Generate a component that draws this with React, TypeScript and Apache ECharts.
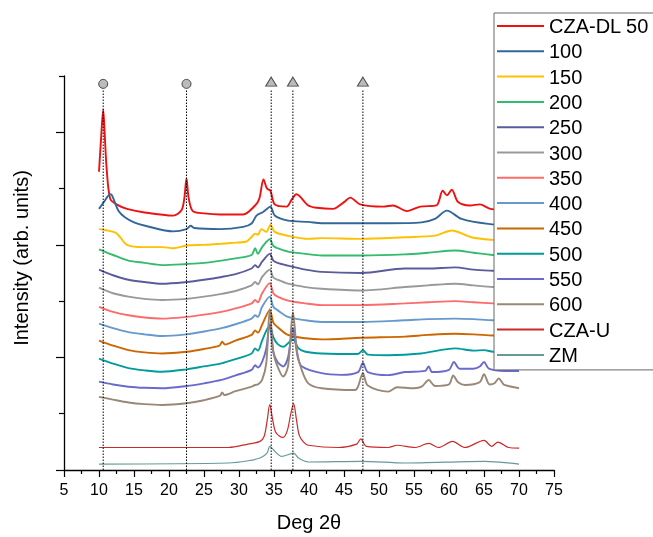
import React, { useEffect, useRef } from "react";
import * as echarts from "echarts";

const names = ["CZA-DL 50", "100", "150", "200", "250", "300", "350", "400", "450", "500", "550", "600", "CZA-U", "ZM"];
const colors = ["#ee1111", "#336699", "#ffc000", "#33bb6e", "#5b5b9b", "#999999", "#ff6b6b", "#6699cc", "#cc6600", "#009b9b", "#6a6acc", "#998877", "#cc2a2a", "#669999"];
const xTicks = [5, 10, 15, 20, 25, 30, 35, 40, 45, 50, 55, 60, 65, 70, 75];

const cza50 = [[10, 265], [10.3, 295], [10.6, 320], [10.8, 300], [11.1, 267], [11.6, 241], [12.5, 236], [14, 232], [16.3, 229], [20.6, 226], [21.8, 231], [22.2, 242], [22.5, 259], [22.8, 242], [23.4, 230], [25, 228], [27.3, 227], [30.6, 227], [32.3, 235], [32.9, 241], [33.5, 258], [34.0, 250], [34.5, 248], [35.1, 236], [36.8, 234], [37.5, 240], [38.2, 245], [39.9, 235], [41.1, 233], [43.4, 232], [45, 238], [45.9, 242], [47.3, 236], [50.6, 234], [52, 235], [54, 230], [55.9, 234], [58.2, 235], [59.1, 248], [59.7, 244], [60.4, 249], [61.3, 238], [63, 235], [64.4, 236], [65.9, 232], [70, 230]];
const s100 = [[10, 232], [10.7, 238], [11.3, 243.6], [11.7, 245], [12.0, 242], [12.8, 230], [13.7, 224.5], [15, 220], [16.6, 217], [20.6, 212], [22.5, 214], [23.1, 217], [23.6, 215], [27.3, 214], [30.6, 216], [31.8, 219], [32.5, 226], [33.4, 229], [34.5, 234], [35.1, 226], [37, 221.5], [39.9, 220.4], [41.8, 219.2], [51.3, 219.2], [56.1, 220], [58, 223], [59.7, 230.4], [61.8, 223], [65.6, 218.6], [70, 217]];
const s150 = [[10, 214], [11, 213], [12.3, 211], [13, 207], [14, 200], [16.3, 198], [19, 198], [20.6, 197], [22.5, 199.4], [25, 200], [27.5, 201], [29.5, 202], [31.1, 203], [31.8, 207], [32.3, 210], [32.7, 209], [33.2, 214], [33.9, 211.5], [34.5, 218], [35.1, 211.5], [37, 208], [39.9, 205.3], [41.8, 206], [47.5, 205.3], [53.7, 206.8], [58, 208.2], [60.4, 212.7], [63.2, 206.8], [66.3, 204.4], [70, 203]];
const s200 = [[10, 196], [12, 191], [14.2, 186], [16.5, 184], [19, 182], [22.5, 183], [25, 184], [27.5, 186], [29.5, 188], [31.8, 191], [32.3, 197], [32.7, 192], [33.3, 198], [34.4, 205], [34.9, 199], [35.5, 197], [37, 194], [39.5, 192], [41.8, 190.5], [47.5, 190.5], [53.7, 191.5], [57, 193], [60.9, 195], [63.5, 193], [66.3, 191], [70, 190]];
const s250 = [[10, 178], [12, 173], [14.2, 169], [16.5, 167], [19, 165.5], [22.5, 167], [25, 169], [27.5, 171.5], [29.5, 174], [31.8, 179], [32.3, 182], [32.7, 180], [33.3, 185], [34.4, 192], [34.9, 186], [35.5, 184], [37, 181.5], [39.5, 178], [41.8, 176], [47.5, 175], [53.7, 179], [57, 179], [60.9, 180], [63.5, 178], [66.3, 177], [70, 176]];
const s300 = [[10, 162], [12, 157], [14.2, 154], [16.5, 152], [19, 151], [22.5, 152], [25, 154], [27.5, 156.5], [29.5, 159], [31.8, 164], [32.3, 167], [32.7, 165], [33.3, 171.5], [34.4, 178], [34.9, 171], [35.5, 169], [37, 165.5], [39.5, 162.5], [41.8, 161], [47.5, 159.5], [53.7, 162.5], [57, 164], [60.9, 165.5], [63.5, 164], [66.3, 162.5], [70, 162]];
const s350 = [[10, 145], [12, 140.5], [14.2, 137.5], [16.5, 135.5], [19, 134.5], [22.5, 136], [25, 138], [27.5, 140.5], [29.5, 143.5], [31.8, 148], [32.3, 151], [32.7, 149], [33.3, 157], [34.4, 166], [34.9, 157], [35.5, 154], [37, 150.5], [39.5, 148], [41.8, 146.5], [47.5, 146.5], [53.7, 148], [57, 149], [60.9, 150], [63.5, 149], [66.3, 148], [70, 147]];
const s400 = [[10, 130], [12, 126], [14.2, 122.5], [16.5, 120.5], [19, 119], [22.5, 120.5], [25, 123], [27.5, 126], [29.5, 129.5], [31.8, 134.5], [32.3, 137.5], [32.7, 136], [33.3, 145], [34.4, 154], [34.9, 145], [35.5, 142], [37, 136], [39.5, 133], [41.8, 131.5], [47.5, 131.5], [53.7, 133], [57, 134], [60.9, 134.5], [63.5, 134], [66.3, 133], [70, 133]];
const s450 = [[10, 115], [12, 110.5], [14.2, 106.5], [16.5, 104.5], [19, 103.5], [22.5, 105], [25, 107.5], [27.2, 110.5], [27.6, 114], [28, 111.5], [29.5, 115], [31.8, 120], [32.3, 124], [32.7, 122], [33.3, 129], [34.4, 142], [34.9, 131], [35.5, 127], [37, 120], [39.5, 117], [41.8, 116], [47.5, 117.5], [53.7, 118.5], [57, 120], [60.9, 121], [63.5, 120.5], [66.3, 119.5], [70, 119]];
const s500 = [[10, 99], [12, 94.5], [14.2, 90.5], [16.5, 88.5], [19, 87.3], [22.5, 89.4], [25, 92], [27.5, 94.7], [29.5, 98.5], [31.8, 103.5], [32.3, 108], [32.7, 106], [33.3, 115], [34.4, 128.5], [34.9, 118], [35.5, 112], [36.3, 109.5], [37.7, 116], [38.5, 108], [39.5, 105], [41.8, 103.5], [47.0, 103], [47.7, 106.5], [48.4, 102.5], [51.3, 102], [56, 103.5], [60.9, 108], [63.5, 106], [65, 106.5], [66.3, 105], [70, 104]];
const s550 = [[10, 78.5], [12, 76], [14.2, 74], [16.5, 73], [19, 72.6], [22.5, 74.6], [25, 77], [27.5, 80], [29.5, 84], [31.8, 89], [32.3, 93], [32.7, 91], [33.3, 96], [33.9, 108], [34.4, 130], [34.9, 105], [35.5, 96], [36.3, 92], [37.0, 100], [37.7, 126], [38.4, 100], [39.0, 92], [41.8, 86], [44.6, 84.5], [47.0, 87], [47.7, 95], [48.4, 87], [51.3, 84.3], [53.7, 87], [56.6, 88], [57.1, 92], [57.6, 87], [60.0, 89], [60.7, 96], [61.5, 90], [63.5, 90], [64.4, 92], [65.0, 96], [65.7, 90], [68, 88], [70, 88]];
const s600 = [[10, 65], [12, 62.5], [14.2, 60], [16.5, 58.5], [19, 57.8], [22.5, 59.3], [25, 62], [27.3, 66], [27.6, 69], [27.9, 66.6], [29.5, 70], [31.8, 74], [32.3, 75.5], [32.7, 76], [33.3, 80], [33.9, 95], [34.4, 143], [34.9, 105], [35.5, 92], [36.3, 83], [37.0, 92], [37.7, 140], [38.3, 105], [38.9, 90], [39.9, 77], [41.8, 72.6], [46.6, 71], [47.0, 74], [47.7, 86], [48.4, 75], [51.3, 69.6], [52.6, 73.5], [55, 72.6], [56.1, 74], [57.1, 80], [58, 74.6], [60.0, 76], [60.6, 84], [61.3, 78], [62.3, 75.5], [64.4, 78], [65.0, 85], [65.8, 76], [66.5, 77], [67.1, 81.4], [67.8, 76], [68.5, 74.6], [70, 72.6]];
const czaU = [[10, 20], [28.5, 20], [31.3, 23], [33, 25.4], [33.6, 30], [34.0, 43], [34.4, 58], [34.8, 45], [35.2, 34], [35.8, 30], [36.3, 29], [36.9, 35], [37.4, 50], [37.8, 59], [38.2, 45], [38.6, 31], [39.2, 25], [39.9, 22], [44.2, 20], [46.8, 23], [47.4, 27.7], [48.2, 21], [51.3, 20], [52.6, 22], [55.1, 20], [57.1, 23.6], [58.5, 20], [60.5, 25.4], [62.3, 20], [65, 26.3], [66.1, 21], [67, 24.8], [68.5, 20], [70, 19.5]];
const zm = [[10, 5.3], [28.5, 6.2], [31.3, 8.2], [33, 10.6], [34.0, 15], [34.4, 21], [35.1, 16.8], [36.1, 12.1], [37.8, 15], [38.5, 10.6], [39.9, 7.1], [47.5, 7.7], [53.7, 6.2], [65.1, 7.7], [70, 5.3]];

const traces = [cza50, s100, s150, s200, s250, s300, s350, s400, s450, s500, s550, s600, czaU, zm];

const circlePeaks = [10.6, 22.5];
const trianglePeaks = [34.6, 37.7, 47.7];
const markerLevel = 343;
const guideTop = 338;

export default function App() {
  const ref = useRef<HTMLDivElement>(null);
  useEffect(() => {
    if (!ref.current) return;
    const chart = echarts.init(ref.current, undefined, { renderer: "svg" });
    const font = "Liberation Sans, Arial, sans-serif";
    const series: any[] = traces.map((d, i) => ({
      name: names[i],
      type: "line",
      data: d,
      showSymbol: false,
      symbol: "none",
      smooth: 0.3,
      lineStyle: { color: colors[i], width: i >= 12 ? 1.2 : 1.9 },
      itemStyle: { color: colors[i] },
      z: 2,
    }));
    [...circlePeaks, ...trianglePeaks].forEach((x) => {
      series.push({
        type: "line",
        data: [[x, 0], [x, guideTop]],
        showSymbol: false,
        symbol: "none",
        lineStyle: { color: "#000", width: 1, type: [1.5, 1.5] },
        z: 3,
        silent: true,
      });
    });
    series.push({
      type: "scatter",
      data: circlePeaks.map((x) => [x, markerLevel]),
      symbol: "circle",
      symbolSize: 9,
      itemStyle: { color: "#aaaaaa", borderColor: "#222", borderWidth: 1 },
      z: 4,
      silent: true,
    });
    series.push({
      type: "scatter",
      data: trianglePeaks.map((x) => [x, markerLevel + 2]),
      symbol: "triangle",
      symbolSize: [11, 9],
      itemStyle: { color: "#aaaaaa", borderColor: "#222", borderWidth: 1 },
      z: 4,
      silent: true,
    });
    chart.setOption({
      animation: false,
      grid: { left: 64, right: 99, top: 76, bottom: 65 },
      xAxis: {
        type: "value",
        min: 5,
        max: 75,
        interval: 5,
        name: "Deg 2θ",
        nameLocation: "middle",
        nameGap: 42,
        nameTextStyle: { fontSize: 20, color: "#000", fontFamily: font },
        axisLine: { show: true, lineStyle: { color: "#000", width: 1.3 } },
        axisTick: { show: true, length: 7, lineStyle: { color: "#000", width: 1.2 } },
        minorTick: { show: true, splitNumber: 2, length: 4, lineStyle: { color: "#000", width: 1.2 } },
        axisLabel: {
          margin: 11,
          fontSize: 16,
          color: "#000",
          fontFamily: font,
          customValues: xTicks,
        },
        splitLine: { show: false },
      },
      yAxis: [
        {
          type: "value",
          min: 0,
          max: 350,
          position: "left",
          axisLine: { show: true, lineStyle: { color: "#000", width: 1.3 } },
          axisTick: { show: true, length: 8, customValues: [0, 100, 200, 300], lineStyle: { color: "#000", width: 1.2 } },
          axisLabel: { show: false },
          splitLine: { show: false },
        },
        {
          type: "value",
          min: 0,
          max: 350,
          position: "left",
          axisLine: { show: false },
          axisTick: { show: true, length: 5, customValues: [50, 150, 250, 350], lineStyle: { color: "#000", width: 1.2 } },
          axisLabel: { show: false },
          splitLine: { show: false },
        },
      ],
      legend: {
        data: names,
        orient: "vertical",
        left: 494,
        top: 13,
        padding: [2, 40, 4, 3],
        itemWidth: 47,
        itemHeight: 2,
        itemGap: 3.3,
        icon: "rect",
        backgroundColor: "#fff",
        borderColor: "#666",
        borderWidth: 1,
        textStyle: { fontSize: 20, lineHeight: 22, color: "#000", fontFamily: font },
      },
      graphic: [
        {
          type: "text",
          x: 21,
          y: 258,
          rotation: Math.PI / 2,
          style: {
            text: "Intensity (arb. units)",
            font: "20px Liberation Sans, Arial, sans-serif",
            fill: "#000",
            textAlign: "center",
            textVerticalAlign: "middle",
          },
        },
      ],
      series,
    });
    return () => chart.dispose();
  }, []);
  return <div ref={ref} style={{ position: "fixed", left: 0, top: 0, width: 653, height: 537 }} />;
}
